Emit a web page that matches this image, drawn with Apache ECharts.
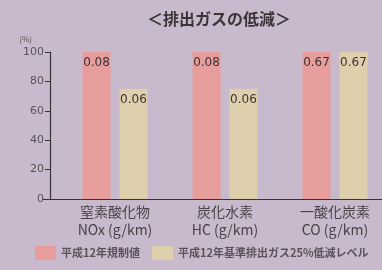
<!DOCTYPE html>
<html>
<head>
<meta charset="utf-8">
<script src="https://cdn.jsdelivr.net/npm/echarts@6/dist/echarts.min.js"></script>
<style>
  html, body { margin: 0; padding: 0; background: #c9b9cc; }
  #main { width: 382px; height: 270px; }
</style>
</head>
<body>
<div id="main"></div>
<script>
// カテゴリ（2行表示）
var categories = ['窒素酸化物\nNOx (g/km)', '炭化水素\nHC (g/km)', '一酸化炭素\nCO (g/km)'];
// 棒の高さ（%）
var regPercent = [100, 100, 100];   // 平成12年規制値
var lowPercent = [75, 75, 100];     // 25%低減レベル
// 棒の上に書く値（g/km）
var regLabels = ['0.08', '0.08', '0.67'];
var lowLabels = ['0.06', '0.06', '0.67'];
var yTicks = [0, 20, 40, 60, 80, 100];
var seriesNames = ['平成12年規制値', '平成12年基準排出ガス25%低減レベル'];

var FONT = '"Noto Sans CJK JP", "Noto Sans", sans-serif';

var chart = echarts.init(document.getElementById('main'));
var option = {
    backgroundColor: '#c9b9cc',
    animation: false,
    textStyle: { fontFamily: FONT },
    title: {
        text: '＜排出ガスの低減＞',
        left: 214, textAlign: 'center', top: 6,
        textStyle: { fontSize: 16, fontWeight: 'bold', color: '#3a3438', fontFamily: FONT }
    },
    legend: {
        bottom: 5, left: 30, width: 600,
        itemWidth: 21, itemHeight: 14, itemGap: 12,
        icon: 'rect',
        textStyle: { fontSize: 11, fontWeight: 'bold', color: '#5a5258', fontFamily: FONT },
        data: seriesNames
    },
    grid: [
        { left: 60, width: 330, top: 52, bottom: 71, outerBoundsMode: 'none' },
        { left: 43, right: 0, top: 52, bottom: 71, outerBoundsMode: 'none' }
    ],
    xAxis: [{
        type: 'category',
        data: categories,
        gridIndex: 0,
        axisLine: { show: false },
        axisTick: { show: false },
        axisLabel: { fontSize: 14, lineHeight: 18, margin: 4, color: '#4a4248', fontFamily: FONT }
    }, {
        // 左へ延びる横軸の線
        type: 'value', gridIndex: 1, min: 0, max: 1,
        axisLine: { show: true, lineStyle: { color: '#3a3438', width: 1.2 } },
        axisTick: { show: false }, axisLabel: { show: false }, splitLine: { show: false }
    }],
    yAxis: [{
        type: 'value',
        gridIndex: 0,
        min: yTicks[0], max: yTicks[yTicks.length - 1], interval: 20,
        offset: 10,
        name: '(%)',
        nameLocation: 'end',
        nameGap: 9,
        nameTextStyle: { fontSize: 8, color: '#5a5258', align: 'right', padding: [0, 18, 0, 0] },
        axisLine: { show: true, lineStyle: { color: '#3a3438', width: 1.2 } },
        axisTick: { show: true, length: 5, lineStyle: { color: '#3a3438' } },
        axisLabel: { fontSize: 11, color: '#5a5258', margin: 6, fontFamily: '"DejaVu Sans", sans-serif' },
        splitLine: { show: false }
    }, {
        type: 'value', gridIndex: 1, show: false
    }],
    series: [{
        name: seriesNames[0],
        type: 'bar',
        barWidth: 28,
        barGap: '32%',
        itemStyle: { color: '#e79d9b' },
        label: {
            show: true, position: 'insideTop', distance: 5,
            fontSize: 12, color: '#3b3235', fontFamily: '"DejaVu Sans", sans-serif',
            formatter: function (p) { return regLabels[p.dataIndex]; }
        },
        data: regPercent
    }, {
        name: seriesNames[1],
        type: 'bar',
        barWidth: 28,
        itemStyle: { color: '#ded0ad' },
        label: {
            show: true, position: 'insideTop', distance: 5,
            fontSize: 12, color: '#3b3235', fontFamily: '"DejaVu Sans", sans-serif',
            formatter: function (p) { return lowLabels[p.dataIndex]; }
        },
        data: lowPercent
    }]
};
chart.setOption(option);
</script>
</body>
</html>
